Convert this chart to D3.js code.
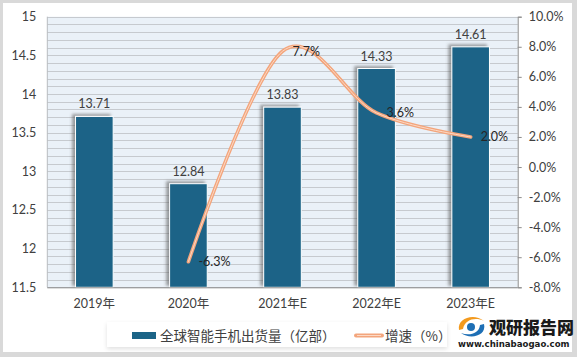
<!DOCTYPE html>
<html><head><meta charset="utf-8">
<script src="https://cdn.jsdelivr.net/npm/d3@7"></script>
<style>
html,body{margin:0;padding:0;background:#d9d9d9;}
svg{display:block;}
</style></head>
<body>
<script>
const categories = ["2019年","2020年","2021年E","2022年E","2023年E"];
const shipments = [13.71, 12.84, 13.83, 14.33, 14.61];
const growth = [null, -6.3, 7.7, 3.6, 2.0];
const leftTicks = [11.5, 12, 12.5, 13, 13.5, 14, 14.5, 15];
const rightTicks = [-8, -6, -4, -2, 0, 2, 4, 6, 8, 10];
const legendLabels = ["全球智能手机出货量（亿部）", "增速（%）"];

const W = 577, H = 357;
const m = {l: 47.3, t: 16.7, r: 517.7, b: 287.3};
const numFont = "Lato, 'Noto Sans', sans-serif";
const cjkFont = "'Noto Sans CJK SC', sans-serif";
const textColor = "#404040";

const svg = d3.select("body").append("svg").attr("width", W).attr("height", H);
const defs = svg.append("defs");
const f = defs.append("filter").attr("id","sh").attr("x","-50%").attr("y","-50%").attr("width","200%").attr("height","200%");
f.append("feDropShadow").attr("dx",-3).attr("dy",-2).attr("stdDeviation",1.8).attr("flood-color","#555").attr("flood-opacity",0.55);
const f2 = defs.append("filter").attr("id","lsh").attr("x","-20%").attr("y","-50%").attr("width","140%").attr("height","200%");
f2.append("feDropShadow").attr("dx",0).attr("dy",2).attr("stdDeviation",2).attr("flood-color","#000").attr("flood-opacity",0.12);

// outer panel
svg.append("rect").attr("x",3).attr("y",3).attr("width",569).attr("height",349).attr("fill","#fff");

const x = d3.scaleBand().domain(categories).range([m.l, m.r]).paddingInner(0.6).paddingOuter(0.3);
const yL = d3.scaleLinear().domain([11.5, 15]).range([m.b, m.t]);
const yR = d3.scaleLinear().domain([-8, 10]).range([m.b, m.t]);

// plot background
svg.append("rect").attr("x",m.l).attr("y",m.t).attr("width",m.r-m.l).attr("height",m.b-m.t).attr("fill","#eaf1f8");
// grid lines every 0.1
const gridVals = d3.range(0, 36).map(i => 11.5 + i*0.1);
svg.append("g").selectAll("line").data(gridVals).join("line")
  .attr("x1",m.l).attr("x2",m.r)
  .attr("y1",d=>Math.round(yL(d))+0.5).attr("y2",d=>Math.round(yL(d))+0.5)
  .attr("stroke","#c6cacf").attr("stroke-width",1);
// left border of plot
svg.append("line").attr("x1",m.l).attr("x2",m.l).attr("y1",m.t).attr("y2",m.b).attr("stroke","#b8bcc0");

// bars
const bw = x.bandwidth();
svg.append("g").selectAll("rect").data(shipments).join("rect")
  .attr("x",(d,i)=>x(categories[i]))
  .attr("y",d=>yL(d))
  .attr("width",bw)
  .attr("height",d=>m.b-yL(d))
  .attr("fill","#1b6487")
  .attr("stroke","#fff").attr("stroke-width",1)
  .attr("filter","url(#sh)");

// bar labels
svg.append("g").selectAll("text").data(shipments).join("text")
  .attr("x",(d,i)=>x(categories[i])+bw/2)
  .attr("y",d=>yL(d)-8)
  .attr("text-anchor","middle")
  .attr("font-family",numFont).attr("font-size",12.5).attr("fill",textColor)
  .text(d=>d.toFixed(2));

// axes lines
svg.append("line").attr("x1",m.l).attr("x2",m.r).attr("y1",m.b+0.5).attr("y2",m.b+0.5).attr("stroke","#8c8c8c");
// left axis labels
const axL = d3.axisLeft(yL).tickValues(leftTicks).tickSize(0).tickPadding(11).tickFormat(d=>d3.format("")(d));
const gL = svg.append("g").attr("transform",`translate(${m.l},0)`).call(axL);
gL.select(".domain").remove();
gL.selectAll("text").attr("font-family",numFont).attr("font-size",12.5).attr("fill",textColor);

// right axis
const axR = d3.axisRight(yR).tickValues(rightTicks).tickSize(4).tickPadding(7).tickFormat(d=>d.toFixed(1)+"%");
const gR = svg.append("g").attr("transform",`translate(${m.r},0)`).call(axR);
gR.select(".domain").attr("stroke","#8c8c8c");
gR.selectAll(".tick line").attr("stroke","#8c8c8c");
gR.selectAll("text").attr("font-family",numFont).attr("font-size",12.5).attr("fill",textColor);

// x axis labels
const axB = d3.axisBottom(x).tickSize(0).tickPadding(12);
const gB = svg.append("g").attr("transform",`translate(0,${m.b})`).call(axB);
gB.select(".domain").remove();
gB.selectAll("text").attr("font-family",numFont+", "+cjkFont).attr("font-size",12.5).attr("fill",textColor);

// growth line
const pts = growth.map((v,i)=>({v, c:categories[i]})).filter(d=>d.v!==null);
const line = d3.line().x(d=>x(d.c)+bw/2).y(d=>yR(d.v)).curve(d3.curveCardinal.tension(0));
svg.append("path").datum(pts).attr("d",line).attr("fill","none").attr("stroke","#f3a57c").attr("stroke-width",3.6).attr("stroke-linecap","round");
svg.append("path").datum(pts).attr("d",line).attr("fill","none").attr("stroke","#fcd9c5").attr("stroke-width",1).attr("stroke-linecap","round");

// growth labels
svg.append("g").selectAll("text").data(pts).join("text")
  .attr("x",d=>x(d.c)+bw/2+10)
  .attr("y",d=>yR(d.v)+4.5)
  .attr("font-family",numFont).attr("font-size",12.5).attr("fill","#262626")
  .text(d=>d.v.toFixed(1)+"%");

// legend
const lg = svg.append("g");
lg.append("rect").attr("x",107).attr("y",322).attr("width",340).attr("height",25).attr("fill","#fff").attr("filter","url(#lsh)");
lg.append("rect").attr("x",132).attr("y",332).attr("width",24).attr("height",7).attr("fill","#1b6487");
lg.append("text").attr("x",160).attr("y",340.5).attr("font-family",cjkFont).attr("font-size",13.5).attr("fill",textColor).text(legendLabels[0]);
lg.append("line").attr("x1",356).attr("x2",382).attr("y1",335.5).attr("y2",335.5).attr("stroke","#f3a57c").attr("stroke-width",4).attr("stroke-linecap","round");
lg.append("line").attr("x1",357).attr("x2",381).attr("y1",335.5).attr("y2",335.5).attr("stroke","#fcd9c5").attr("stroke-width",1);
lg.append("text").attr("x",385).attr("y",340.5).attr("font-family",cjkFont).attr("font-size",13.5).attr("fill",textColor).text(legendLabels[1]);

// logo
const logo = svg.append("g");
logo.append("path").attr("d","M459,330 C457,318 474,313 484,321 C476,317 465,319 463,329 Z").attr("fill","#f39a1e");
logo.append("path").attr("d","M484,324 C487,336 470,340 461,333 C469,336 479,334 480,325 Z").attr("fill","#1e6fb5");
logo.append("circle").attr("cx",471).attr("cy",327).attr("r",4).attr("fill","#1e6fb5");
logo.append("text").attr("x",489).attr("y",334).attr("font-family",cjkFont).attr("font-weight",900).attr("font-size",17).attr("fill","#1a1a1a").text("观研报告网");
logo.append("text").attr("x",458).attr("y",347).attr("font-family","'DejaVu Sans', sans-serif").attr("font-weight",700).attr("font-size",8.6).attr("fill","#1a1a1a").text("www.chinabaogao.com");
</script>
</body></html>
